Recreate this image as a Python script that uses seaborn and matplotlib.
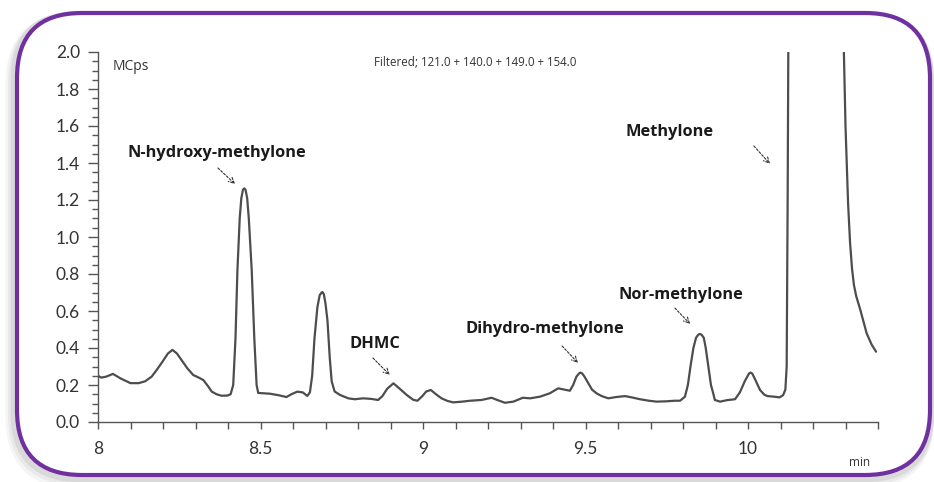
import numpy as np
import pandas as pd
import matplotlib
matplotlib.use("Agg")
import matplotlib.pyplot as plt
from matplotlib.patches import FancyBboxPatch
from matplotlib.ticker import MultipleLocator, FixedLocator
import seaborn as sns

# ---- data ----
time_min = [
    8.000, 8.010, 8.025, 8.046, 8.070, 8.100, 8.125, 8.145, 8.165, 8.180,
    8.200, 8.215, 8.229, 8.243, 8.257, 8.275, 8.293, 8.310, 8.324, 8.338,
    8.350, 8.365, 8.380, 8.398, 8.408, 8.416, 8.423, 8.429, 8.436, 8.441,
    8.446, 8.450, 8.454, 8.459, 8.464, 8.473, 8.481, 8.488, 8.493, 8.510,
    8.529, 8.555, 8.580, 8.595, 8.613, 8.630, 8.644, 8.652, 8.659, 8.666,
    8.675, 8.682, 8.688, 8.691, 8.695, 8.700, 8.706, 8.713, 8.719, 8.728,
    8.745, 8.770, 8.790, 8.816, 8.840, 8.862, 8.875, 8.890, 8.909, 8.925,
    8.950, 8.970, 8.983, 8.998, 9.010, 9.024, 9.040, 9.057, 9.075, 9.093,
    9.120, 9.145, 9.180, 9.211, 9.230, 9.252, 9.278, 9.307, 9.330, 9.360,
    9.390, 9.416, 9.435, 9.452, 9.462, 9.472, 9.481, 9.485, 9.490, 9.497,
    9.509, 9.520, 9.534, 9.550, 9.570, 9.595, 9.622, 9.645, 9.668, 9.695,
    9.719, 9.750, 9.775, 9.791, 9.806, 9.815, 9.823, 9.832, 9.840, 9.847,
    9.852, 9.857, 9.864, 9.870, 9.878, 9.886, 9.893, 9.898, 9.914, 9.935,
    9.960, 9.975, 9.990, 10.003, 10.008, 10.013, 10.022, 10.037, 10.050, 10.060,
    10.080, 10.097, 10.108, 10.115, 10.119, 10.122, 10.125, 10.130, 10.210, 10.285,
    10.295, 10.300, 10.305, 10.308, 10.314, 10.320, 10.326, 10.333, 10.345, 10.365,
    10.380, 10.394,
]
intensity_mcps = [
    0.250, 0.240, 0.245, 0.260, 0.235, 0.210, 0.210, 0.220, 0.245, 0.280,
    0.330, 0.370, 0.390, 0.370, 0.335, 0.290, 0.254, 0.240, 0.227, 0.195,
    0.164, 0.150, 0.142, 0.143, 0.150, 0.200, 0.450, 0.820, 1.100, 1.210,
    1.255, 1.263, 1.255, 1.210, 1.100, 0.820, 0.450, 0.200, 0.157, 0.155,
    0.153, 0.145, 0.135, 0.150, 0.164, 0.160, 0.141, 0.160, 0.250, 0.450,
    0.620, 0.685, 0.700, 0.702, 0.690, 0.640, 0.550, 0.350, 0.220, 0.165,
    0.146, 0.128, 0.123, 0.128, 0.125, 0.119, 0.140, 0.180, 0.209, 0.185,
    0.146, 0.120, 0.115, 0.140, 0.165, 0.173, 0.150, 0.128, 0.114, 0.106,
    0.110, 0.115, 0.119, 0.131, 0.118, 0.104, 0.110, 0.131, 0.128, 0.137,
    0.155, 0.182, 0.175, 0.169, 0.200, 0.245, 0.264, 0.267, 0.262, 0.245,
    0.209, 0.175, 0.155, 0.140, 0.128, 0.135, 0.140, 0.132, 0.123, 0.115,
    0.110, 0.112, 0.115, 0.115, 0.137, 0.200, 0.300, 0.400, 0.455, 0.472,
    0.476, 0.472, 0.455, 0.400, 0.300, 0.200, 0.155, 0.119, 0.110, 0.118,
    0.123, 0.160, 0.220, 0.262, 0.267, 0.262, 0.230, 0.173, 0.148, 0.140,
    0.137, 0.133, 0.145, 0.175, 0.300, 1.200, 2.400, 3.200, 4.000, 2.600,
    2.000, 1.600, 1.330, 1.180, 0.970, 0.830, 0.740, 0.680, 0.610, 0.480,
    0.420, 0.380,
]

peak_labels = ["N-hydroxy-methylone", "DHMC", "Dihydro-methylone", "Nor-methylone", "Methylone"]
label_x = [8.366, 8.852, 9.375, 9.794, 9.760]
label_y = [1.454, 0.422, 0.503, 0.686, 1.568]
arrow_from_x = [8.369, 8.846, 9.428, 9.775, 10.018]
arrow_from_y = [1.373, 0.346, 0.411, 0.616, 1.492]
arrow_to_x = [8.422, 8.898, 9.477, 9.822, 10.068]
arrow_to_y = [1.286, 0.254, 0.319, 0.530, 1.395]

x_tick_labels = ["8", "8.5", "9", "9.5", "10"]
x_tick_values = [8.0, 8.5, 9.0, 9.5, 10.0]
y_tick_values = [0.0, 0.2, 0.4, 0.6, 0.8, 1.0, 1.2, 1.4, 1.6, 1.8, 2.0]
y_tick_labels = ["0.0", "0.2", "0.4", "0.6", "0.8", "1.0", "1.2", "1.4", "1.6", "1.8", "2.0"]

y_unit = "MCps"
x_unit = "min"
filter_text = "Filtered; 121.0 + 140.0 + 149.0 + 154.0"

df = pd.DataFrame({"t": time_min, "v": intensity_mcps})

sns.set_style("ticks")
plt.rcParams["font.family"] = ["Lato", "DejaVu Sans"]

W, H = 934, 482
fig = plt.figure(figsize=(W / 100, H / 100), dpi=100)
fig.patch.set_facecolor("white")

# rounded purple frame with soft shadow (pixel coordinates)
for i, a in enumerate([0.05, 0.07, 0.10]):
    off = 6 - i * 2
    sh = FancyBboxPatch((16 - off * 0.6, 6 - off), 915, 463,
                        boxstyle="round,pad=0,rounding_size=65",
                        transform=None, facecolor="none",
                        edgecolor=(0.3, 0.3, 0.3, a), linewidth=4 + off,
                        zorder=0)
    fig.patches.append(sh)
frame = FancyBboxPatch((17, 7), 913, 462,
                       boxstyle="round,pad=0,rounding_size=65",
                       transform=None, facecolor="white",
                       edgecolor="#7030A0", linewidth=3.0, zorder=1)
fig.patches.append(frame)

ax = fig.add_axes([98 / W, 1 - 422 / H, (878 - 98) / W, (422 - 52) / H])
ax.set_facecolor("none")
ax.set_zorder(2)

sns.lineplot(data=df, x="t", y="v", ax=ax, sort=False, estimator=None,
             color="#4d4d4d", linewidth=1.6)

ax.set_xlim(8.0, 10.4)
ax.set_ylim(0.0, 2.0)
ax.set_xlabel("")
ax.set_ylabel("")

ax.xaxis.set_major_locator(FixedLocator(x_tick_values))
ax.set_xticklabels(x_tick_labels)
ax.xaxis.set_minor_locator(MultipleLocator(0.1))
ax.yaxis.set_major_locator(FixedLocator(y_tick_values))
ax.set_yticklabels(y_tick_labels)
ax.yaxis.set_minor_locator(MultipleLocator(0.05))

spine_col = "#555555"
for s in ["top", "right"]:
    ax.spines[s].set_visible(False)
for s in ["left", "bottom"]:
    ax.spines[s].set_color(spine_col)
    ax.spines[s].set_linewidth(1.0)

ax.tick_params(axis="x", which="both", direction="out", length=5, width=1.0,
               color=spine_col, pad=9, labelsize=12.5, labelcolor="#333333")
ax.tick_params(axis="y", which="major", direction="out", length=7, width=1.0,
               color=spine_col, pad=6, labelsize=12.5, labelcolor="#333333")
ax.tick_params(axis="y", which="minor", direction="out", length=4, width=1.0,
               color=spine_col)

# unit / filter texts
ax.text(113 / W, 1 - 66 / H, y_unit, transform=fig.transFigure, fontsize=10,
        color="#333333", va="center", ha="left", family=["Open Sans", "DejaVu Sans"])
ax.text(475 / W, 1 - 63 / H, filter_text, transform=fig.transFigure, fontsize=8.3,
        color="#333333", va="center", ha="center", family=["Open Sans", "DejaVu Sans"])
ax.text(860 / W, 1 - 462 / H, x_unit, transform=fig.transFigure, fontsize=8.5,
        color="#333333", va="center", ha="center", family=["Open Sans", "DejaVu Sans"])

# peak annotations
for lab, lx, ly, fx, fy, tx, ty in zip(peak_labels, label_x, label_y,
                                       arrow_from_x, arrow_from_y,
                                       arrow_to_x, arrow_to_y):
    ax.text(lx, ly, lab, fontsize=11.8, fontweight="bold", color="#1a1a1a",
            ha="center", va="center", family=["Open Sans", "DejaVu Sans"])
    ax.annotate("", xy=(tx, ty), xytext=(fx, fy),
                arrowprops=dict(arrowstyle="->", color="#333333", lw=0.8,
                                linestyle=(0, (2, 1.5)), shrinkA=0, shrinkB=0))

fig.savefig("out.png", dpi=100)
